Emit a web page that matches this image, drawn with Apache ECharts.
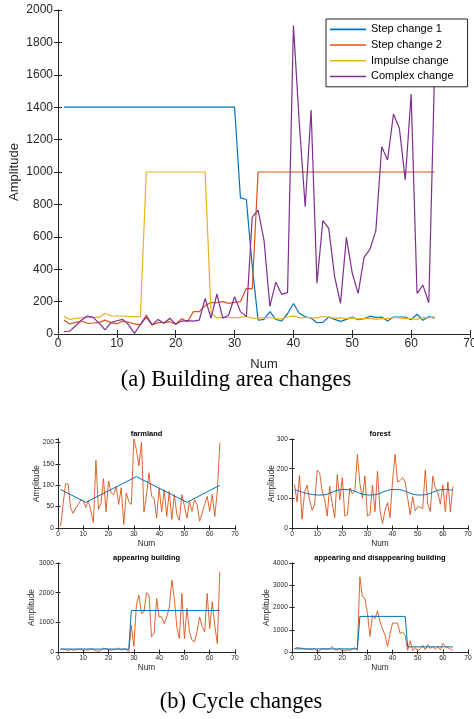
<!DOCTYPE html>
<html><head><meta charset="utf-8">
<script src="https://cdn.jsdelivr.net/npm/echarts@6.0.0/dist/echarts.min.js"></script>
<style>html,body{margin:0;padding:0;background:#fff}#c{width:474px;height:719px}</style>
</head><body><div id="c"></div>
<script>
// ---------- data ----------
const NUM = Array.from({length: 64}, (_, i) => i + 1);

const seriesNames = ['Step change 1', 'Step change 2', 'Impulse change', 'Complex change'];

const stepChange1 = [1400,1400,1400,1400,1400,1400,1400,1400,1400,1400,
  1400,1400,1400,1400,1400,1400,1400,1400,1400,1400,
  1400,1400,1400,1400,1400,1400,1400,1400,1400,1400,
  840,830,420,85,90,138,90,80,125,188,
  128,107,97,70,72,105,90,78,90,105,
  88,95,110,103,105,80,105,105,105,88,
  122,85,108,97];

const stepChange2 = [86,62,72,80,66,68,72,86,70,62,
  80,72,62,56,117,56,70,72,76,60,
  95,76,138,138,175,195,193,200,189,195,
  200,282,278,1000,1000,1000,1000,1000,1000,1000,
  1000,1000,1000,1000,1000,1000,1000,1000,1000,1000,
  1000,1000,1000,1000,1000,1000,1000,1000,1000,1000,
  1000,1000,1000,1000];

const impulseChange = [107,90,97,101,103,103,103,128,111,111,
  111,107,107,107,1000,1000,1000,1000,1000,1000,
  1000,1000,1000,1000,1000,125,100,103,103,100,
  103,108,97,100,100,102,95,93,105,112,
  100,103,100,100,108,105,98,100,95,100,
  93,95,98,90,95,95,102,100,95,95,
  90,102,100,108];

const complexChange = [14,18,51,86,111,103,66,25,70,82,
  90,56,4,60,103,56,90,66,97,60,
  80,82,80,86,220,97,247,97,117,230,
  138,107,722,765,580,170,320,245,255,1905,
  1300,786,1383,313,700,652,354,189,597,375,
  251,473,523,638,1156,1074,1358,1270,951,1481,
  251,302,193,1650];

// cycle changes: trend vertices (x, y) and observed values
const farmlandTrendX = [1, 11, 31, 51, 64];
const farmlandTrendY = [90, 60, 120, 60, 100];
const farmlandValues = [4,55,103,103,47,34,47,55,66,64,
  48,64,40,13,158,43,58,115,38,110,
  82,78,97,55,94,8,82,62,55,208,
  183,145,200,37,78,129,74,70,23,94,
  37,90,27,86,20,78,31,18,78,51,
  23,62,39,66,55,16,35,55,74,39,
  78,27,86,199];

const forestTrendX = [1, 11, 21, 31, 41, 51, 61, 64];
const forestTrendY = [130, 111, 130, 111, 130, 111, 130, 127];
const forestValues = [147,88,177,30,120,145,95,60,78,195,
  185,125,95,40,140,82,35,180,95,170,
  40,45,135,115,125,248,150,100,175,40,
  45,145,55,192,60,15,60,85,35,160,
  248,155,160,170,155,100,45,105,58,72,
  70,65,195,80,55,175,135,120,80,145,
  55,155,55,140];

const appearTrendX = [1, 28, 29, 64];
const appearTrendY = [100, 100, 1400, 1400];
const appearValues = [100,90,80,50,90,60,70,90,100,50,
  80,60,110,80,40,30,60,130,110,80,
  60,90,80,140,60,100,80,20,900,190,
  1580,1920,1300,1350,2000,1920,510,620,1800,1180,
  1180,960,1180,1500,2420,1800,850,450,1970,450,
  1470,680,400,340,700,1180,850,680,1970,790,
  1690,900,280,2700];

const appDisTrendX = [1, 26, 27, 45, 46, 64];
const appDisTrendY = [140, 140, 1600, 1600, 230, 230];
const appDisValues = [150,200,180,170,150,120,130,100,160,30,
  50,150,130,120,150,250,100,80,150,50,
  60,100,80,120,200,80,3380,2480,2400,1730,
  700,1650,1500,1850,1350,1050,750,250,830,1300,
  1300,1300,830,900,750,75,500,60,200,50,
  150,300,100,330,150,250,120,230,100,380,
  250,200,120,80];

const smallTitles = ['farmland', 'forest', 'appearing building', 'appearing and disappearing building'];
const smallYMax = [208, 300, 3000, 4000];
const smallYInterval = [50, 100, 1000, 1000];

// ---------- styling ----------
const C_BLUE = '#0072BD', C_ORANGE = '#D95319', C_YELLOW = '#EDB120', C_PURPLE = '#7E2F8E';
const AX = '#262626';
const FONT = 'Liberation Sans, Arial, Helvetica, sans-serif';

const grids = [
  {left: 58, top: 10, width: 412, height: 324},
  {left: 58, top: 439, width: 177, height: 89},
  {left: 292, top: 439, width: 176, height: 89},
  {left: 58, top: 563, width: 177, height: 89},
  {left: 292, top: 563, width: 176, height: 89}
];
const xAxes = [], yAxes = [];
const plain = v => String(v);
function addAxes(g, cfg) {
  const line = {show: true, lineStyle: {color: AX, width: 1}};
  const tick = {show: true, inside: true, length: cfg.tick, lineStyle: {color: AX, width: 1}};
  xAxes.push({gridIndex: g, type: 'value', position: 'bottom', min: 0, max: 70, interval: 10,
    axisLine: line, axisTick: tick, splitLine: {show: false},
    axisLabel: {fontSize: cfg.fs, color: AX, margin: cfg.xm, fontFamily: FONT, formatter: plain},
    name: 'Num', nameLocation: 'middle', nameGap: cfg.xng, nameMoveOverlap: false,
    nameTextStyle: {fontSize: cfg.nfs, color: AX, fontFamily: FONT}});
  xAxes.push({gridIndex: g, type: 'value', position: 'top', min: 0, max: 70, interval: 10,
    axisLine: line, axisTick: tick, splitLine: {show: false}, axisLabel: {show: false}});
  yAxes.push({gridIndex: g, type: 'value', position: 'left', min: 0, max: cfg.ymax, interval: cfg.yint,
    axisLine: line, axisTick: tick, splitLine: {show: false},
    axisLabel: {fontSize: cfg.fs, color: AX, margin: cfg.ym, fontFamily: FONT, formatter: plain,
      showMaxLabel: cfg.ymax % cfg.yint === 0},
    name: 'Amplitude', nameLocation: 'middle', nameGap: cfg.yng, nameMoveOverlap: false,
    nameTextStyle: {fontSize: cfg.nfs, color: AX, fontFamily: FONT}});
  yAxes.push({gridIndex: g, type: 'value', position: 'right', min: 0, max: cfg.ymax, interval: cfg.yint,
    axisLine: line, axisTick: tick, splitLine: {show: false}, axisLabel: {show: false}});
}
addAxes(0, {tick: 4, fs: 12, xm: 4, xng: 24, nfs: 13, ymax: 2000, yint: 200, ym: 5, yng: 37});
const smallYNameGap = [17, 16, 22, 21];
for (let i = 0; i < 4; i++) {
  addAxes(i + 1, {tick: 2.5, fs: 6.7, xm: 2.5, xng: 12, nfs: 8.3, ymax: smallYMax[i], yint: smallYInterval[i], ym: 4, yng: smallYNameGap[i]});
}

function pairs(xs, ys) { return xs.map((x, i) => [x, ys[i]]); }
function lineSeries(name, g, data, color, width, smooth) {
  return {name: name, type: 'line', xAxisIndex: 2 * g, yAxisIndex: 2 * g, data: data,
    showSymbol: false, symbol: 'none', smooth: smooth || false,
    lineStyle: {color: color, width: width}, itemStyle: {color: color}, emphasis: {disabled: true}};
}

const mainSets = [stepChange1, stepChange2, impulseChange, complexChange];
const mainColors = [C_BLUE, C_ORANGE, C_YELLOW, C_PURPLE];
const series = mainSets.map((s, i) => lineSeries(seriesNames[i], 0, pairs(NUM, s), mainColors[i], 1.2));

const smallValues = [farmlandValues, forestValues, appearValues, appDisValues];
const smallTrends = [[farmlandTrendX, farmlandTrendY], [forestTrendX, forestTrendY], [appearTrendX, appearTrendY], [appDisTrendX, appDisTrendY]];
for (let i = 0; i < 4; i++) {
  series.push(lineSeries('obs' + i, i + 1, pairs(NUM, smallValues[i]), C_ORANGE, 0.9));
  series.push(lineSeries('trend' + i, i + 1, pairs(smallTrends[i][0], smallTrends[i][1]), C_BLUE, 1, i === 1 ? 0.5 : false));
}

const graphics = [];
smallTitles.forEach((t, i) => {
  const gr = grids[i + 1];
  graphics.push({type: 'text', x: gr.left + gr.width / 2, y: gr.top - 5,
    style: {text: t, textAlign: 'center', textVerticalAlign: 'middle', font: 'bold 7.5px ' + FONT, fill: '#000'}});
});
graphics.push({type: 'text', x: 236, y: 380, style: {text: '(a) Building area changes', textAlign: 'center', textVerticalAlign: 'middle', font: '22.5px Liberation Serif, Times New Roman, serif', fill: '#000'}});
graphics.push({type: 'text', x: 241, y: 702, style: {text: '(b) Cycle changes', textAlign: 'center', textVerticalAlign: 'middle', font: '22.5px Liberation Serif, Times New Roman, serif', fill: '#000'}});

const chart = echarts.init(document.getElementById('c'), null, {renderer: 'canvas'});
chart.setOption({
  animation: false,
  backgroundColor: '#fff',
  grid: grids.map(g => Object.assign({outerBoundsMode: 'none', containLabel: false}, g)),
  xAxis: xAxes,
  yAxis: yAxes,
  legend: {
    data: seriesNames, orient: 'vertical', left: 326, top: 19,
    backgroundColor: '#fff', borderColor: AX, borderWidth: 1, borderRadius: 0,
    padding: [4, 14, 4, 4], itemGap: 3, itemWidth: 36, itemHeight: 1.6, icon: 'rect',
    textStyle: {fontSize: 11, color: '#000', fontFamily: FONT, lineHeight: 12.7},
    selectedMode: false
  },
  series: series,
  graphic: graphics
});
</script>
</body></html>
